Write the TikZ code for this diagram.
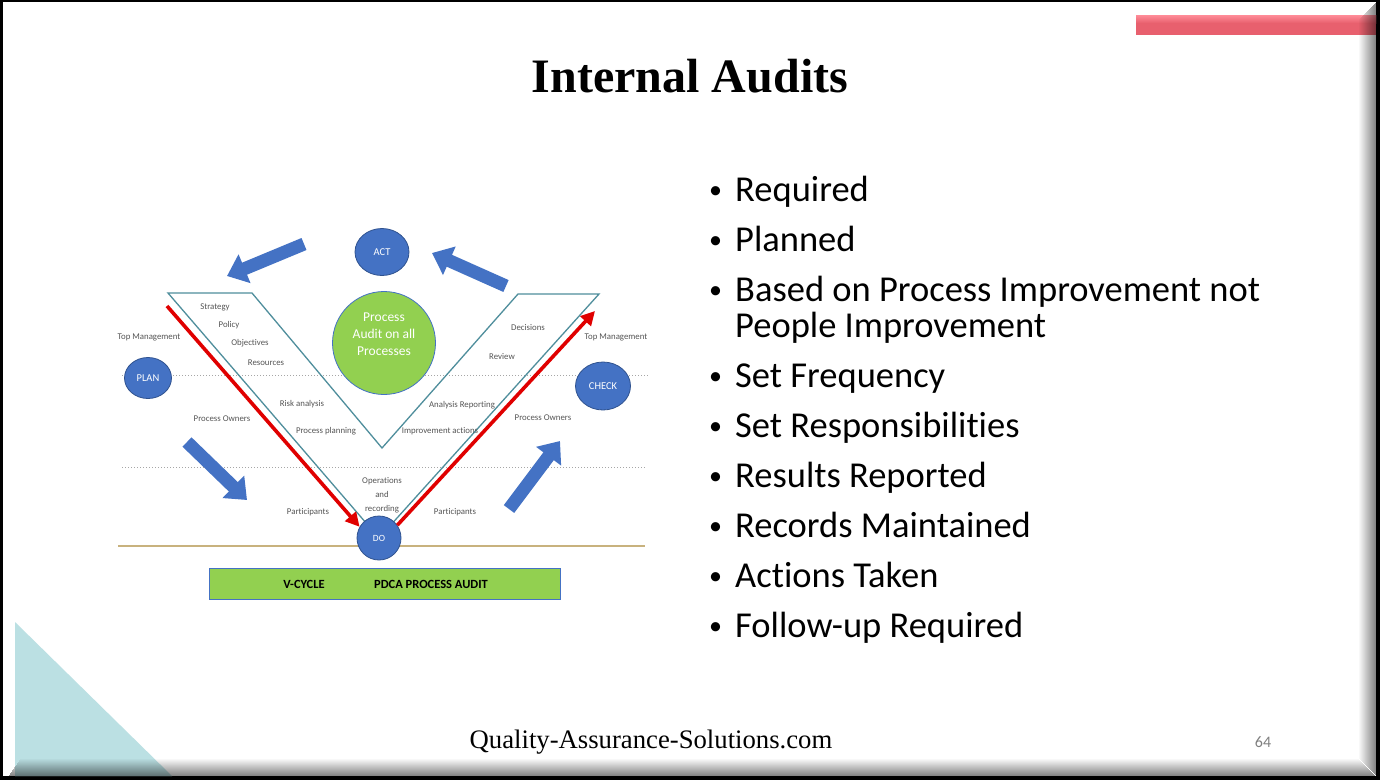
\documentclass[tikz,border=0pt]{standalone}
\usepackage{fontspec}
\setmainfont{Carlito}[Ligatures=NoCommon, Contextuals=NoAlternate]
\newfontfamily\titlefont{Liberation Serif}
\usetikzlibrary{arrows.meta, shapes.geometric, positioning}

\definecolor{blueshape}{HTML}{4472C4}
\definecolor{blueedge}{HTML}{2F528F}
\definecolor{greenshape}{HTML}{92D050}
\definecolor{vteal}{HTML}{4F8E9C}
\definecolor{redflow}{HTML}{E00000}
\definecolor{tanline}{HTML}{C8B27E}
\definecolor{labelgray}{HTML}{555555}
\definecolor{barred}{HTML}{E8606E}
\definecolor{barpink}{HTML}{FF8C98}
\definecolor{cornerteal}{HTML}{BBE0E3}

\tikzset{
  phase/.style={ellipse, fill=blueshape, draw=blueedge, line width=0.8pt, text=white, inner sep=0pt, font=\fontsize{10.5}{12}\selectfont},
  smalllbl/.style={text=labelgray, inner sep=0pt, font=\fontsize{8.8}{14}\selectfont, align=center},
  blockarrow/.style={draw=blueshape, line width=13pt, -{Triangle[length=19pt,width=30pt]}},
  redarrow/.style={draw=redflow, line width=3.6pt, -{Triangle[length=14pt,width=14pt]}},
  vline/.style={draw=vteal, line width=1.3pt, line join=miter},
  sepline/.style={draw=gray!70, line width=1pt, dotted},
  bullettext/.style={anchor=base west, inner sep=0pt, font=\fontsize{36.5}{37}\selectfont},
  bulletdot/.style={anchor=base west, inner sep=0pt, font=\fontsize{26}{28}\selectfont},
}

\begin{document}
\begin{tikzpicture}[x=1pt, y=-1pt]
  \useasboundingbox (0,0) rectangle (1380,780);
  % Frame
  \fill[black] (0,0) rectangle (1380,780);
  \fill[white] (3,2) rectangle (1376,776);
  \fill[cornerteal] (15,622) -- (172,776) -- (15,776) -- cycle;
  \fill[barred] (1136,15) rectangle (1376,35);
  \shade[top color=barpink, bottom color=barred] (1136,15) rectangle (1376,23);
  % Bevel
  \foreach \i in {0,...,16}{
    \pgfmathsetmacro\op{(\i+1)/36}
    \fill[black, fill opacity=\op] (1359+\i,19-\i) rectangle (1360+\i,759+\i);
    \fill[black, fill opacity=\op] (20-\i*0.7,759+\i) rectangle (1359+\i,760+\i);
  }

  % Title and footer
  \node[anchor=base, inner sep=0pt, font=\titlefont\bfseries\fontsize{48}{50}\selectfont] (title) at (690,92) {Internal Audits};
  \node[anchor=base, inner sep=0pt, font=\titlefont\fontsize{26.7}{28}\selectfont] (site) at (651,748) {Quality-Assurance-Solutions.com};
  \node[anchor=base, inner sep=0pt, text=gray, font=\fontsize{16}{18}\selectfont] (pagenum) at (1263,747) {64};

  % Bullet list
  \foreach \y/\txt [count=\i] in {201/Required, 251/Planned, 301/Based on Process Improvement not, 387/Set Frequency, 437/Set Responsibilities, 487/Results Reported, 537/Records Maintained, 587/Actions Taken, 637/Follow-up Required}{
    \node[bulletdot] (dot\i) at (709,\y-3) {•};
    \node[bullettext] (item\i) at (735,\y) {\txt};
  }
  \node[bullettext] (item3b) at (735,337) {People Improvement};

  % Level lines
  \draw[sepline] (122,375) -- (648,375);
  \draw[sepline] (122,467) -- (645,467);
  \draw[draw=tanline, line width=1.5pt] (118,546) -- (645,546);

  % V-cycle outline
  \coordinate (vTL) at (168,293);
  \coordinate (vTLi) at (252,293);
  \coordinate (vMid) at (382,448);
  \coordinate (vTRi) at (518,294);
  \coordinate (vTR) at (599,294);
  \coordinate (vBot) at (379,538);
  \draw[vline] (vTL) -- (vTLi) -- (vMid) -- (vTRi) -- (vTR) -- (vBot) -- cycle;

  % Phases
  \node[phase, minimum width=54pt, minimum height=47pt] (act) at (382,252) {ACT};
  \node[phase, minimum width=47pt, minimum height=41pt] (plan) at (148,378) {PLAN};
  \node[phase, minimum width=55pt, minimum height=48pt] (check) at (603,386) {CHECK};
  \node[phase, minimum width=44pt, minimum height=44pt, font=\fontsize{9.5}{11}\selectfont] (DO) at (vBot) {DO};
  \node[circle, fill=greenshape, draw=blueshape, line width=0.8pt, minimum size=103pt, inner sep=0pt] (audit) at (384,343) {};
  \node[text=white, align=center, inner sep=0pt, font=\fontsize{13.5}{17}\selectfont] (auditText) at ([yshift=9pt]audit.center) {Process\\Audit on all\\Processes};

  % Red flow
  \coordinate (redL) at (167,306);
  \coordinate (redR) at (595,311);
  \draw[redarrow] (redL) -- (DO.150);
  \draw[redarrow] (DO.35) -- (redR);

  % Cycle arrows
  \coordinate (a1s) at (304,244);
  \coordinate (a1e) at (227,276);
  \coordinate (a2s) at (506,286);
  \coordinate (a2e) at (432,253);
  \coordinate (a3s) at (187,442);
  \coordinate (a3e) at (247,500);
  \coordinate (a4s) at (509,509);
  \coordinate (a4e) at (560,441);
  \draw[blockarrow] (a1s) -- (a1e);
  \draw[blockarrow] (a2s) -- (a2e);
  \draw[blockarrow] (a3s) -- (a3e);
  \draw[blockarrow] (a4s) -- (a4e);

  % Labels
  \node[smalllbl] (strategy) at (215,307) {Strategy};
  \node[smalllbl] (policy) at (229,325) {Policy};
  \node[smalllbl] (objectives) at (250,343) {Objectives};
  \node[smalllbl] (resources) at (266,363) {Resources};
  \node[smalllbl] (topL) at (149,337) {Top Management};
  \node[smalllbl] (risk) at (302,404) {Risk analysis};
  \node[smalllbl] (ownersL) at (222,419) {Process Owners};
  \node[smalllbl] (planning) at (326,431) {Process planning};
  \node[smalllbl] (decisions) at (528,327) {Decisions};
  \node[smalllbl] (review) at (502,356) {Review};
  \node[smalllbl] (topR) at (616,337) {Top Management};
  \node[smalllbl] (reporting) at (462,405) {Analysis Reporting};
  \node[smalllbl] (improve) at (440,431) {Improvement actions};
  \node[smalllbl] (ownersR) at (543,418) {Process Owners};
  \node[smalllbl] (operations) at (382,495) {Operations\\and\\recording};
  \node[smalllbl] (partL) at (308,512) {Participants};
  \node[smalllbl] (partR) at (455,512) {Participants};

  % Bottom banner
  \node[draw=blueshape, fill=greenshape, line width=0.8pt, minimum width=351pt, minimum height=31pt, inner sep=0pt] (banner) at (384.5,583.5) {};
  \node[font=\bfseries\fontsize{12.5}{14}\selectfont, inner sep=0pt] (vcycle) at (304,584) {V-CYCLE};
  \node[font=\bfseries\fontsize{12.5}{14}\selectfont, inner sep=0pt] (pdca) at (431,584) {PDCA PROCESS AUDIT};
\end{tikzpicture}
\end{document}
